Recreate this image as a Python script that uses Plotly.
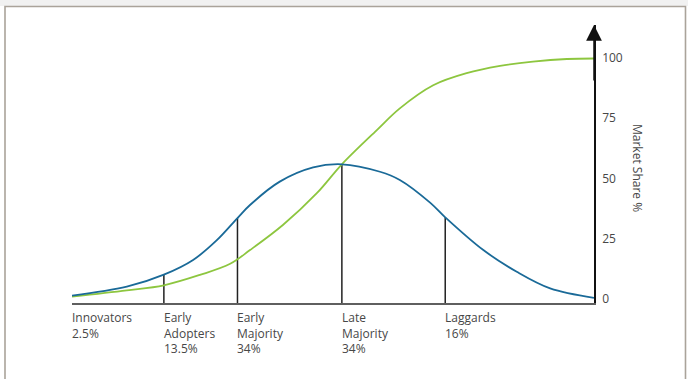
import numpy as np
import plotly.graph_objects as go

# Adoption timeline (0-100) and the two curves
adoption_x = [0, 10.5, 17.6, 23.2, 27.7, 31.7, 34.1, 39.8, 46.2, 51.7,
              59.0, 62.8, 68.6, 71.5, 78.8, 85.2, 91.6, 100]
adopters = [1.4, 5.1, 10.1, 16.2, 24.3, 33.6, 39.0, 48.7, 54.6, 55.9,
            52.8, 49.4, 40.0, 33.9, 20.3, 11.3, 4.4, 0.5]

share_x = [0, 10.5, 17.6, 24.5, 30.3, 34.1, 40.4, 46.9, 51.7, 58.4, 62.8,
           69.2, 75.6, 82.0, 88.3, 94.8, 100]
market_share = [1.0, 3.6, 5.7, 10.0, 14.6, 20.3, 30.7, 43.9, 55.9, 70.1, 79.1,
                88.7, 93.7, 96.7, 98.5, 99.6, 99.8]

# Segment boundaries and labels
segment_starts = [0, 17.6, 31.7, 51.7, 71.5]
segment_labels = ["Innovators<br>2.5%", "Early<br>Adopters<br>13.5%",
                  "Early<br>Majority<br>34%", "Late<br>Majority<br>34%",
                  "Laggards<br>16%"]

share_ticks = [0, 25, 50, 75, 100]

W, H = 688, 379
L, R, T, B = 72, 94, 25, 76
Y_MIN, Y_MAX = -1.66, 113.7

pw, ph = W - L - R, H - T - B


def px_x(px):
    return (px - L) / pw


def px_y(py):
    return (H - B - py) / ph


font_family = "Open Sans, Noto Sans, sans-serif"
text_color = "#474747"

fig = go.Figure()

# Boundary lines up to the adopter curve
line_x, line_y = [], []
for xs in segment_starts[1:]:
    top = float(np.interp(xs, adoption_x, adopters))
    line_x += [xs, xs, None]
    line_y += [Y_MIN, top, None]
fig.add_trace(go.Scatter(x=line_x, y=line_y, mode="lines",
                         line=dict(color="#222222", width=1.5),
                         hoverinfo="skip", showlegend=False))

fig.add_trace(go.Scatter(x=share_x, y=market_share, mode="lines",
                         line=dict(color="#8dc63f", width=1.8, shape="spline"),
                         showlegend=False))
fig.add_trace(go.Scatter(x=adoption_x, y=adopters, mode="lines",
                         line=dict(color="#1a6a98", width=1.8, shape="spline"),
                         showlegend=False))

# Segment labels under the axis
for xs, lab in zip(segment_starts, segment_labels):
    fig.add_annotation(x=xs, y=0, xref="x", yref="paper", text=lab,
                       showarrow=False, xanchor="left", yanchor="top",
                       align="left", xshift=-2, yshift=-4,
                       font=dict(family=font_family, size=12, color=text_color))

# Arrow on top of the market share axis
fig.add_annotation(x=100, y=Y_MAX, ax=100, ay=90, xref="x", yref="y",
                   axref="x", ayref="y", text="", showarrow=True,
                   arrowhead=2, arrowsize=2.1, arrowwidth=1.5,
                   arrowcolor="#111111")

# Axis title reading downwards
fig.add_annotation(x=px_x(638), y=px_y(168), xref="paper", yref="paper",
                   xanchor="center", yanchor="middle",
                   text="Market Share %", showarrow=False, textangle=90,
                   font=dict(family=font_family, size=12, color=text_color))

# Page frame
fig.add_shape(type="rect", xref="paper", yref="paper",
              x0=px_x(0), x1=px_x(W), y0=px_y(6), y1=px_y(0),
              fillcolor="#f1f1f1", line=dict(width=0), layer="below")
fig.add_shape(type="rect", xref="paper", yref="paper",
              x0=px_x(5), x1=px_x(685.5), y0=px_y(395), y1=px_y(6.5),
              fillcolor="white", line=dict(color="#aaa39a", width=1.6),
              layer="below")

fig.update_layout(
    width=W, height=H,
    margin=dict(l=L, r=R, t=T, b=B),
    paper_bgcolor="white", plot_bgcolor="rgba(0,0,0,0)",
    showlegend=False,
    xaxis=dict(range=[0, 100], showgrid=False, zeroline=False,
               showticklabels=False, ticks="", showline=True,
               linecolor="#5f5f5f", linewidth=2, fixedrange=True),
    yaxis=dict(range=[Y_MIN, Y_MAX], side="right", showgrid=False,
               zeroline=False, tickmode="array", tickvals=share_ticks,
               ticks="outside", ticklen=4, tickcolor="rgba(0,0,0,0)",
               showline=True, linecolor="#111111", linewidth=1.5,
               tickfont=dict(family=font_family, size=12, color=text_color),
               fixedrange=True),
)

fig.write_html("out.html")
